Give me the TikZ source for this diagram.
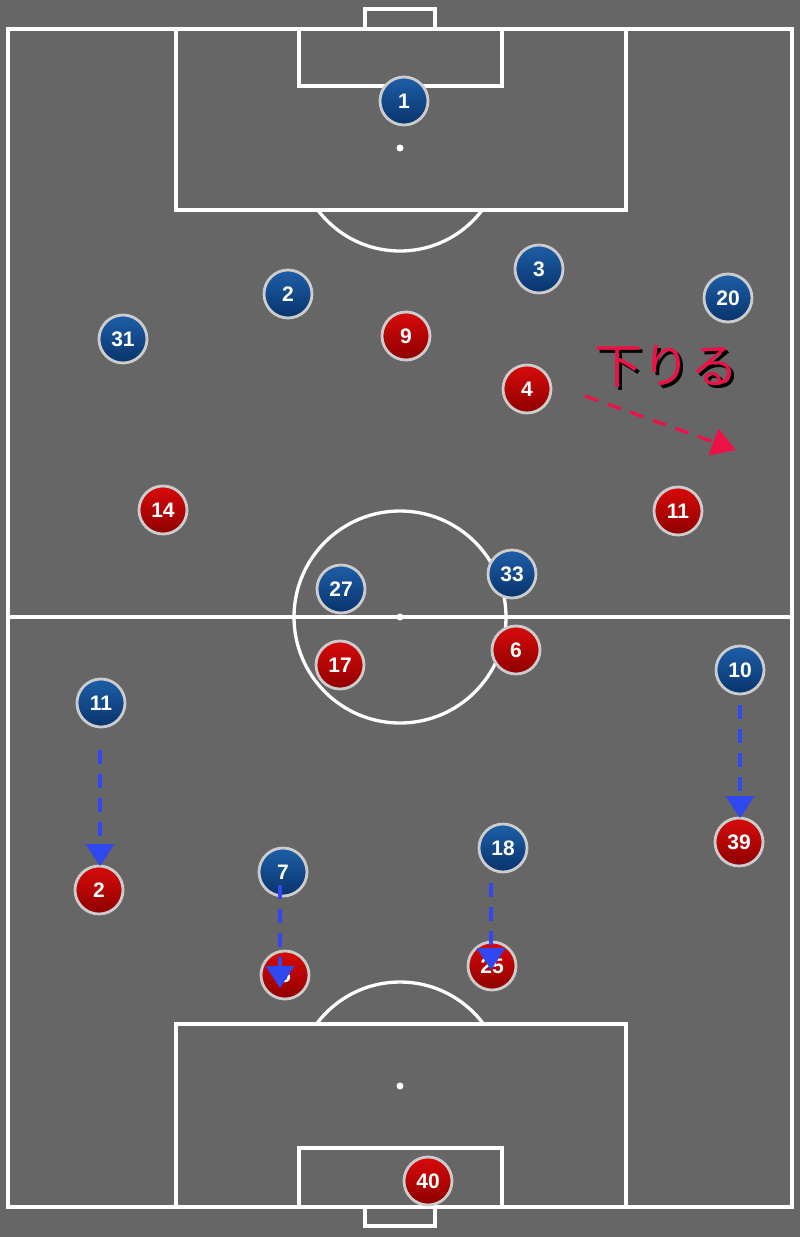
\documentclass[tikz,border=0pt]{standalone}
\usepackage{fontspec}
\setmainfont{Liberation Sans}
\newfontfamily\cjk{Noto Sans CJK JP}
\usetikzlibrary{arrows.meta}
\definecolor{bg}{HTML}{666666}
\definecolor{bluetop}{HTML}{1E5FA8}
\definecolor{bluebot}{HTML}{08336B}
\definecolor{redtop}{HTML}{D80A0A}
\definecolor{redbot}{HTML}{8E0000}
\definecolor{ringc}{HTML}{CCCCCC}
\definecolor{arrowblue}{HTML}{3048F0}
\definecolor{arrowred}{HTML}{EE1148}
\tikzset{
  fieldline/.style={draw=white, line width=3.3pt},
  player/.style={circle, minimum size=48pt, inner sep=0pt, draw=ringc, line width=2.8pt,
    font=\fontsize{21}{21}\selectfont\bfseries, text=white},
  blueplayer/.style={player, top color=bluetop, bottom color=bluebot},
  redplayer/.style={player, top color=redtop, bottom color=redbot},
  bluearrow/.style={draw=arrowblue, line width=3.2pt, dash pattern=on 14pt off 10pt,
    -{Triangle[width=28pt,length=22pt]}},
  redarrow/.style={draw=arrowred, line width=3.2pt, dash pattern=on 14pt off 10pt,
    -{Triangle[width=28pt,length=24pt]}},
}
\begin{document}
\begin{tikzpicture}[x=1pt,y=-1pt]
\useasboundingbox (0,0) rectangle (800,1237);
\fill[bg] (0,0) rectangle (800,1237);
% field
\draw[fieldline] (8,29) rectangle (792,1207);
\draw[fieldline] (365,29) -- (365,9) -- (435,9) -- (435,29);
\draw[fieldline] (365,1207) -- (365,1226) -- (435,1226) -- (435,1207);
\draw[fieldline] (176,29) rectangle (626,210);
\draw[fieldline] (299,29) rectangle (502,86);
\draw[fieldline] (176,1207) rectangle (626,1024);
\draw[fieldline] (299,1207) rectangle (502,1148);
\draw[fieldline] (8,617) -- (792,617);
\draw[fieldline] (400,617) circle[radius=106];
\fill[white] (400,617) circle[radius=3.5];
\fill[white] (400,148) circle[radius=3.5];
\fill[white] (400,1086) circle[radius=3.5];
\begin{scope}
\clip (0,211.6) rectangle (800,400);
\draw[fieldline] (400,148) circle[radius=103];
\end{scope}
\begin{scope}
\clip (0,900) rectangle (800,1022.4);
\draw[fieldline] (400,1086) circle[radius=104];
\end{scope}
% blue players
\node[blueplayer] (b1) at (404,101) {1};
\node[blueplayer] (b3) at (539,269) {3};
\node[blueplayer] (b2) at (288,294) {2};
\node[blueplayer] (b20) at (728,298) {20};
\node[blueplayer] (b31) at (123,339) {31};
\node[blueplayer] (b33) at (512,574) {33};
\node[blueplayer] (b27) at (341,589) {27};
\node[blueplayer] (b10) at (740,670) {10};
\node[blueplayer] (b11) at (101,703) {11};
\node[blueplayer] (b18) at (503,848) {18};
\node[blueplayer] (b7) at (283,872) {7};
% red players
\node[redplayer] (r9) at (406,336) {9};
\node[redplayer] (r4) at (527,389) {4};
\node[redplayer] (r14) at (163,510) {14};
\node[redplayer] (r11) at (678,511) {11};
\node[redplayer] (r6) at (516,650) {6};
\node[redplayer] (r17) at (340,665) {17};
\node[redplayer] (r39) at (739,842) {39};
\node[redplayer] (r2) at (99,890) {2};
\node[redplayer] (r5) at (285,975) {5};
\node[redplayer] (r25) at (492,966) {25};
\node[redplayer] (r40) at (428,1181) {40};
% arrows
\coordinate (a11s) at (100,750);
\coordinate (a11e) at (100,866);
\coordinate (a10s) at (740,705);
\coordinate (a10e) at (740,818);
\coordinate (a7s) at (280,885);
\coordinate (a7e) at (280,988);
\coordinate (a18s) at (491,883);
\coordinate (a18e) at (491,970);
\draw[bluearrow] (a11s) -- (a11e);
\draw[bluearrow] (a10s) -- (a10e);
\draw[bluearrow] (a7s) -- (a7e);
\draw[bluearrow] (a18s) -- (a18e);
\coordinate (ars) at (585,396);
\coordinate (are) at (736,450);
\draw[redarrow] (ars) -- (are);
% label with shadow
\node[font=\cjk\fontsize{48}{48}\selectfont, inner sep=0pt] (lbl) at (666,368)
  {\makebox[0pt][l]{\hspace{3pt}\raisebox{-3pt}{\textcolor{black}{下りる}}}\textcolor{arrowred}{下りる}};
\end{tikzpicture}
\end{document}
